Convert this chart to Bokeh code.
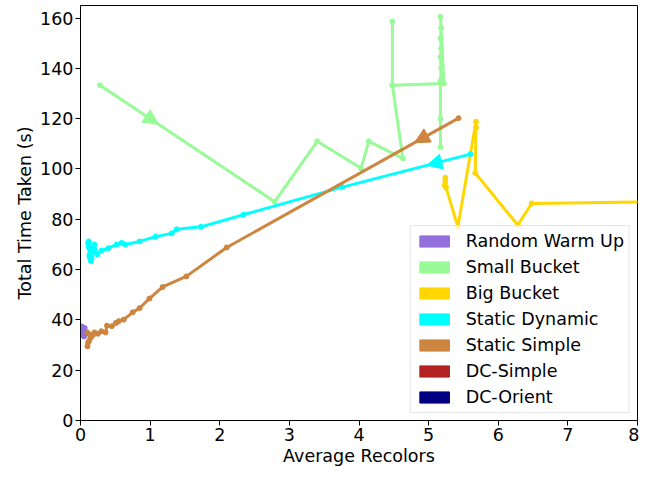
from bokeh.plotting import figure
from bokeh.models import (ColumnDataSource, Range1d, FixedTicker, Legend, LegendItem,
                          Arrow, NormalHead)
from bokeh.embed import file_html
from bokeh.resources import INLINE

# ---------------- data ----------------
series_names = ["Random Warm Up", "Small Bucket", "Big Bucket", "Static Dynamic",
                "Static Simple", "DC-Simple", "DC-Orient"]
series_colors = ["#9370DB", "#98FB98", "#FFD700", "#00FFFF", "#CD853F", "#B22222", "#000080"]

rw_x = [0.02, 0.05, 0.07, 0.03, 0.06, 0.02, 0.05, 0.08, 0.03]
rw_y = [37.4, 36.2, 35.0, 34.0, 36.8, 35.2, 33.4, 34.6, 36.0]

sb_x = [0.28, 2.79, 3.40, 4.03, 4.14, 4.63, 4.48, 4.48, 4.48, 5.22, 5.17, 5.18, 5.17,
        5.18, 5.17, 5.18, 5.17, 5.17, 5.17]
sb_y = [133.3, 87.0, 111.0, 100.3, 111.0, 104.2, 133.3, 158.6, 133.3, 134.0, 160.5, 156.0,
        152.0, 148.0, 144.5, 140.0, 135.0, 120.0, 108.7]

bb_x = [5.24, 5.24, 5.23, 5.25, 5.42, 5.68, 5.68, 5.67, 6.28, 6.48, 8.6]
bb_y = [96.5, 95.0, 93.5, 92.6, 77.0, 118.8, 116.5, 98.4, 77.7, 86.3, 87.1]

sd_x = [5.60, 3.76, 2.34, 1.73, 1.38, 1.31, 1.08, 0.85, 0.64, 0.59, 0.52, 0.40, 0.30,
        0.24, 0.20, 0.15, 0.13, 0.12, 0.14, 0.13, 0.16, 0.12, 0.18, 0.11, 0.15, 0.13]
sd_y = [105.9, 92.8, 81.8, 77.0, 76.0, 74.4, 73.1, 71.2, 70.0, 70.6, 70.0, 68.5, 67.5,
        66.0, 70.0, 63.4, 65.0, 71.2, 68.0, 66.0, 64.5, 69.0, 67.0, 70.5, 66.5, 68.5]

ss_x = [5.43, 2.10, 1.52, 1.18, 0.99, 0.85, 0.75, 0.62, 0.55, 0.51, 0.45, 0.38, 0.36,
        0.30, 0.25, 0.20, 0.15, 0.12, 0.10, 0.11, 0.14, 0.18, 0.10]
ss_y = [120.2, 68.8, 57.3, 53.1, 48.5, 44.7, 43.0, 40.1, 39.5, 38.8, 37.5, 37.7, 35.0,
        35.5, 34.5, 35.0, 33.0, 31.5, 29.5, 31.0, 33.0, 34.0, 35.0]

dcs_x, dcs_y = [], []
dco_x, dco_y = [], []

# direction arrows: (series index, segment index, fraction along the segment)
arrow_specs = [(1, 0, 0.335), (3, 0, 0.34), (4, 0, 0.19)]

x_ticks = [0, 1, 2, 3, 4, 5, 6, 7, 8]
y_ticks = [0, 20, 40, 60, 80, 100, 120, 140, 160]

all_x = [rw_x, sb_x, bb_x, sd_x, ss_x, dcs_x, dco_x]
all_y = [rw_y, sb_y, bb_y, sd_y, ss_y, dcs_y, dco_y]

FONT = "DejaVu Sans"
FS = "17.5px"

p = figure(width=639, height=468, output_backend="svg", toolbar_location=None,
           x_range=Range1d(0, 8), y_range=Range1d(0, 165),
           min_border_left=80, min_border_right=2, min_border_top=5, min_border_bottom=44)

p.xgrid.visible = False
p.ygrid.visible = False
p.outline_line_color = "black"
p.outline_line_width = 1
p.outline_line_alpha = 1.0
p.background_fill_color = "white"
p.border_fill_color = "white"

for ax in (p.xaxis[0], p.yaxis[0]):
    ax.major_label_text_font = FONT
    ax.major_label_text_font_size = FS
    ax.major_label_text_color = "black"
    ax.axis_label_text_font = FONT
    ax.axis_label_text_font_size = FS
    ax.axis_label_text_font_style = "normal"
    ax.axis_label_text_color = "black"
    ax.axis_line_color = "black"
    ax.major_tick_line_color = "black"
    ax.major_tick_out = 5
    ax.major_tick_in = 0
    ax.minor_tick_line_color = None
    ax.major_label_standoff = 2
    ax.axis_label_standoff = 2

p.xaxis[0].ticker = FixedTicker(ticks=x_ticks)
p.yaxis[0].ticker = FixedTicker(ticks=y_ticks)
p.xaxis[0].axis_label = "Average Recolors"
p.yaxis[0].axis_label = "Total Time Taken (s)"

nan = float("nan")
legend_items = []
for name, color, xs, ys in zip(series_names, series_colors, all_x, all_y):
    src = ColumnDataSource(dict(x=xs, y=ys))
    p.line("x", "y", source=src, line_color=color, line_width=3,
           line_join="round", line_cap="round")
    p.scatter("x", "y", source=src, size=5, fill_color=color, line_color=color)
    # legend swatch (patch) - no visible geometry
    dummy = ColumnDataSource(dict(left=[nan], right=[nan], top=[nan], bottom=[nan]))
    r = p.quad(left="left", right="right", top="top", bottom="bottom", source=dummy,
               fill_color=color, line_color=color, fill_alpha=1.0)
    legend_items.append(LegendItem(label=name, renderers=[r]))

for si, seg, frac in arrow_specs:
    xs, ys = all_x[si], all_y[si]
    x0, y0, x1, y1 = xs[seg], ys[seg], xs[seg + 1], ys[seg + 1]
    tx, ty = x0 + frac * (x1 - x0), y0 + frac * (y1 - y0)
    bx, by = x0 + (frac - 0.02) * (x1 - x0), y0 + (frac - 0.02) * (y1 - y0)
    c = series_colors[si]
    p.add_layout(Arrow(end=NormalHead(size=15, fill_color=c, line_color=c, line_width=1),
                       x_start=bx, y_start=by, x_end=tx, y_end=ty,
                       line_color=c, line_width=3))

legend = Legend(items=legend_items, location="bottom_right")
legend.label_text_font = FONT
legend.label_text_font_size = FS
legend.label_text_color = "black"
legend.glyph_width = 37
legend.glyph_height = 14
legend.label_height = 20
legend.label_standoff = 13
legend.spacing = 6
legend.padding = 5
legend.margin = 7
legend.border_line_color = "#cccccc"
legend.border_line_width = 1
legend.background_fill_color = "white"
legend.background_fill_alpha = 0.8
p.add_layout(legend)

open("out.html", "w").write(file_html(p, INLINE))
